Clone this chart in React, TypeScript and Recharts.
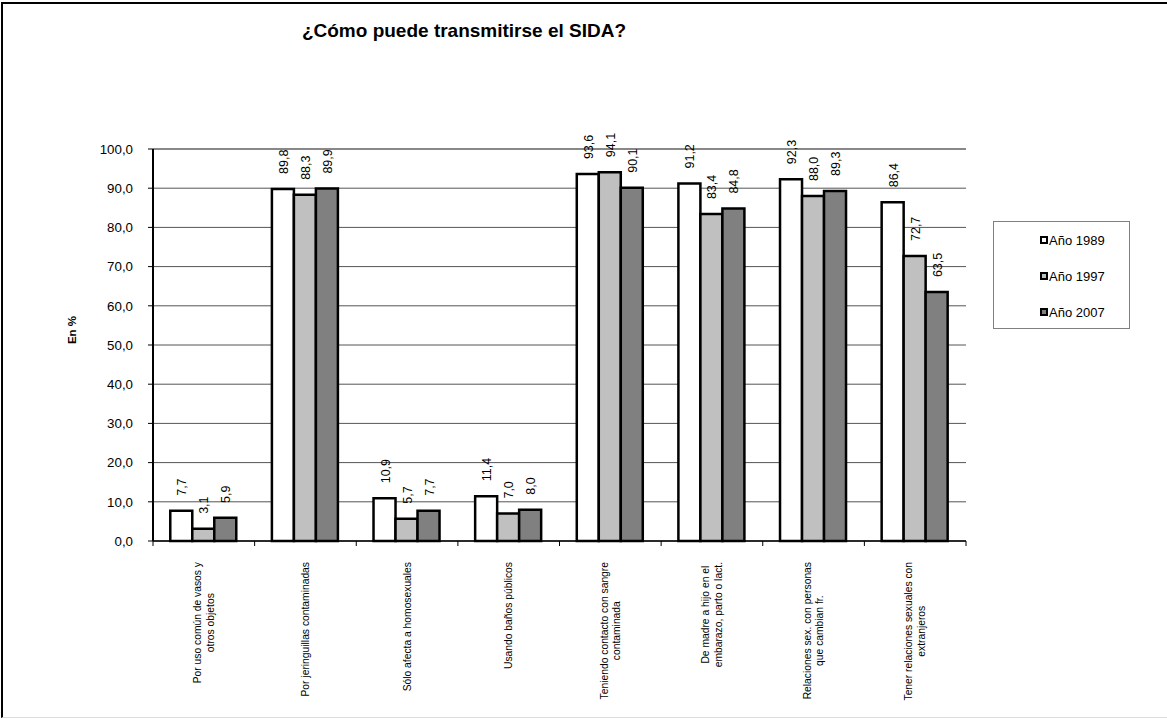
import React from "react";
import { BarChart, Bar, XAxis, YAxis, CartesianGrid, ReferenceLine, LabelList } from "recharts";

const categories = [
  "Por uso común de vasos y\notros objetos",
  "Por jeringuillas contaminadas",
  "Sólo afecta a homosexuales",
  "Usando baños públicos",
  "Teniendo contacto con sangre\ncontaminada",
  "De madre a hijo en el\nembarazo, parto o lact.",
  "Relaciones sex. con personas\nque cambian fr.",
  "Tener relaciones sexuales con\nextranjeros",
];
const y1989 = [7.7, 89.8, 10.9, 11.4, 93.6, 91.2, 92.3, 86.4];
const y1997 = [3.1, 88.3, 5.7, 7.0, 94.1, 83.4, 88.0, 72.7];
const y2007 = [5.9, 89.9, 7.7, 8.0, 90.1, 84.8, 89.3, 63.5];
const seriesNames = ["Año 1989", "Año 1997", "Año 2007"];
const seriesColors = ["#FFFFFF", "#C0C0C0", "#808080"];
const yTicks = [0, 10, 20, 30, 40, 50, 60, 70, 80, 90, 100];

const data = categories.map((c, i) => ({
  name: c,
  a: y1989[i],
  b: y1997[i],
  c: y2007[i],
}));

const FONT = "Arial, 'Liberation Sans', sans-serif";
const W = 1167;
const H = 719;
const PLOT_LEFT = 153;
const PLOT_RIGHT = 966;
const PLOT_TOP = 149;
const PLOT_BOTTOM = 541;
const BW = (PLOT_RIGHT - PLOT_LEFT) / categories.length;
const CAT_FS = 10.3;

let ctx: CanvasRenderingContext2D | null = null;
function measure(t: string, font: string) {
  if (typeof document === "undefined") return t.length * 5;
  if (!ctx) ctx = document.createElement("canvas").getContext("2d");
  if (!ctx) return t.length * 5;
  ctx.font = font;
  return ctx.measureText(t).width;
}

const fmt = (v: number) => v.toFixed(1).replace(".", ",");

const CatTick = (props: any) => {
  const { x, payload, index } = props;
  const lines: string[] = String(payload.value).split("\n");
  const maxW = Math.max(...lines.map((l) => measure(l, `${CAT_FS}px ${FONT}`)));
  const cy = 562 + maxW / 2;
  const n = lines.length;
  return (
    <g>
      <line x1={x - BW / 2} x2={x - BW / 2} y1={PLOT_BOTTOM} y2={PLOT_BOTTOM + 5} stroke="#000" strokeWidth={1} />
      {index === categories.length - 1 && (
        <line x1={x + BW / 2} x2={x + BW / 2} y1={PLOT_BOTTOM} y2={PLOT_BOTTOM + 5} stroke="#000" strokeWidth={1} />
      )}
      {lines.map((l, i) => {
        const lx = x + (i - (n - 1) / 2) * 12.5;
        return (
          <text
            key={i}
            x={lx}
            y={cy}
            transform={`rotate(-90, ${lx}, ${cy})`}
            textAnchor="middle"
            dominantBaseline="central"
            fontSize={CAT_FS}
            fontFamily={FONT}
            fill="#000"
          >
            {l}
          </text>
        );
      })}
    </g>
  );
};

const ValueLabel = (props: any) => {
  const { x, y, width, value } = props;
  const lx = x + width / 2 + 1;
  const ly = y - 15;
  return (
    <text
      x={lx}
      y={ly}
      transform={`rotate(-90, ${lx}, ${ly})`}
      textAnchor="start"
      dominantBaseline="central"
      fontSize={12.5}
      fontFamily={FONT}
      fill="#000"
    >
      {fmt(Number(value))}
    </text>
  );
};

const LegendBox = () => (
  <div
    style={{
      position: "absolute",
      left: 993,
      top: 221,
      width: 137,
      height: 108,
      border: "1px solid #808080",
      boxSizing: "border-box",
      background: "#fff",
      fontFamily: FONT,
      fontSize: 13,
    }}
  >
    {seriesNames.map((n, i) => (
      <div
        key={n}
        style={{ position: "absolute", left: 46, top: 10 + i * 36, display: "flex", alignItems: "center", height: 16 }}
      >
        <span
          style={{
            display: "inline-block",
            width: 4,
            height: 4,
            border: "2px solid #000",
            background: seriesColors[i],
            marginRight: 1,
          }}
        />
        <span>{n}</span>
      </div>
    ))}
  </div>
);

export default function App() {
  return (
    <div style={{ position: "absolute", left: 0, top: 0, width: W, height: H, background: "#fff" }}>
      <div
        style={{
          position: "absolute",
          left: 1,
          top: 2,
          width: W,
          height: 716,
          borderLeft: "2px solid #000",
          borderTop: "2px solid #000",
          borderBottom: "1px solid #ddd",
          boxSizing: "border-box",
        }}
      />
      <div
        style={{
          position: "absolute",
          left: 214,
          top: 20,
          width: 500,
          textAlign: "center",
          fontFamily: FONT,
          fontWeight: "bold",
          fontSize: 19,
        }}
      >
        ¿Cómo puede transmitirse el SIDA?
      </div>
      <BarChart
        width={W}
        height={H}
        data={data}
        margin={{ top: PLOT_TOP, right: W - PLOT_RIGHT, bottom: 8, left: PLOT_LEFT - 60 }}
        barCategoryGap="17%"
        barGap={0}
        style={{ position: "absolute", left: 0, top: 0 }}
      >
        <CartesianGrid vertical={false} stroke="#555" strokeWidth={1} yAxisId="l" />
        <XAxis
          dataKey="name"
          height={H - PLOT_BOTTOM - 8}
          tick={<CatTick />}
          tickLine={false}
          tickSize={0}
          tickMargin={0}
          interval={0}
          axisLine={{ stroke: "#000", strokeWidth: 1.5 }}
        />
        <YAxis
          yAxisId="l"
          width={60}
          domain={[0, 100]}
          ticks={yTicks}
          tickFormatter={fmt}
          tickSize={5}
          tickMargin={15}
          tick={{ fontSize: 13.3, fontFamily: FONT, fill: "#000" }}
          tickLine={{ stroke: "#000" }}
          axisLine={{ stroke: "#000", strokeWidth: 2 }}
          label={{
            content: () => (
              <text
                x={72}
                y={330}
                transform="rotate(-90, 72, 330)"
                textAnchor="middle"
                dominantBaseline="central"
                fontSize={11.5}
                fontWeight="bold"
                fontFamily={FONT}
                fill="#000"
              >
                En %
              </text>
            ),
          }}
        />
        <YAxis
          yAxisId="r"
          orientation="right"
          width={0}
          domain={[0, 100]}
          tick={false}
          tickLine={false}
          axisLine={{ stroke: "#888", strokeWidth: 2 }}
        />
        <ReferenceLine yAxisId="l" y={100} stroke="#888" strokeWidth={2} />
        {["a", "b", "c"].map((k, i) => (
          <Bar
            key={k}
            yAxisId="l"
            dataKey={k}
            name={seriesNames[i]}
            fill={seriesColors[i]}
            stroke="#000"
            strokeWidth={2.5}
            isAnimationActive={false}
          >
            <LabelList dataKey={k} content={<ValueLabel />} />
          </Bar>
        ))}
      </BarChart>
      <LegendBox />
    </div>
  );
}
